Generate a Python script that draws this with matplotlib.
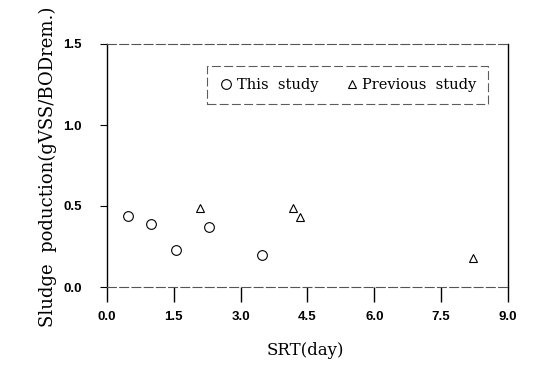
import matplotlib
matplotlib.use("Agg")
import matplotlib.pyplot as plt

this_x = [0.47, 0.99, 1.55, 2.30, 3.48]
this_y = [0.44, 0.39, 0.23, 0.37, 0.20]
prev_x = [2.08, 4.17, 4.34, 8.21]
prev_y = [0.49, 0.49, 0.43, 0.18]
xticks = [0.0, 1.5, 3.0, 4.5, 6.0, 7.5, 9.0]
yticks = [0.0, 0.5, 1.0, 1.5]

fig = plt.figure(figsize=(5.51, 3.65), dpi=100)
ax = fig.add_axes([107/551, 1-287/365, 401/551, 243/365])

ax.plot(this_x, this_y, linestyle='none', marker='o', markersize=7,
        markerfacecolor='white', markeredgecolor='black', markeredgewidth=0.8,
        label='This  study')
ax.plot(prev_x, prev_y, linestyle='none', marker='^', markersize=5.5,
        markerfacecolor='white', markeredgecolor='black', markeredgewidth=0.8,
        label='Previous  study')

ax.set_xlim(0, 9.0)
ax.set_ylim(0, 1.5)
ax.set_xticks(xticks)
ax.set_yticks(yticks)
ax.set_xticklabels([f"{v:.1f}" for v in xticks], fontweight='bold',
                   fontfamily='Liberation Sans', fontsize=9.5)
ax.set_yticklabels([f"{v:.1f}" for v in yticks], fontweight='bold',
                   fontfamily='Liberation Sans', fontsize=9.5)
ax.tick_params(axis='x', direction='out', length=11, width=1, pad=6)
ax.tick_params(axis='y', direction='out', length=5, width=0.8, pad=13)

for s in ['left', 'right']:
    ax.spines[s].set_linewidth(1.0)
    ax.spines[s].set_color('black')
for s in ['top', 'bottom']:
    ax.spines[s].set_linewidth(0.8)
    ax.spines[s].set_color('#555555')
    ax.spines[s].set_linestyle((0, (8, 3)))

ax.set_xlabel('SRT(day)', fontfamily='DejaVu Serif', fontsize=12)
ax.xaxis.set_label_coords(0.495, -0.225)
ax.set_ylabel('Sludge  poduction(gVSS/BODrem.)', fontfamily='DejaVu Serif',
              fontsize=13)
ax.yaxis.set_label_coords(-0.125, 0.494)

leg = ax.legend(loc='center', bbox_to_anchor=(0.60, 0.831),
                ncol=2, prop={'family': 'DejaVu Serif', 'size': 10.5},
                frameon=True, fancybox=False, handletextpad=0.2,
                columnspacing=1.8, borderpad=0.85, handlelength=1.0,
                borderaxespad=0)
fr = leg.get_frame()
fr.set_edgecolor('#333333')
fr.set_linewidth(0.8)
fr.set_linestyle((0, (8, 3)))

fig.savefig('out.png', dpi=100)
